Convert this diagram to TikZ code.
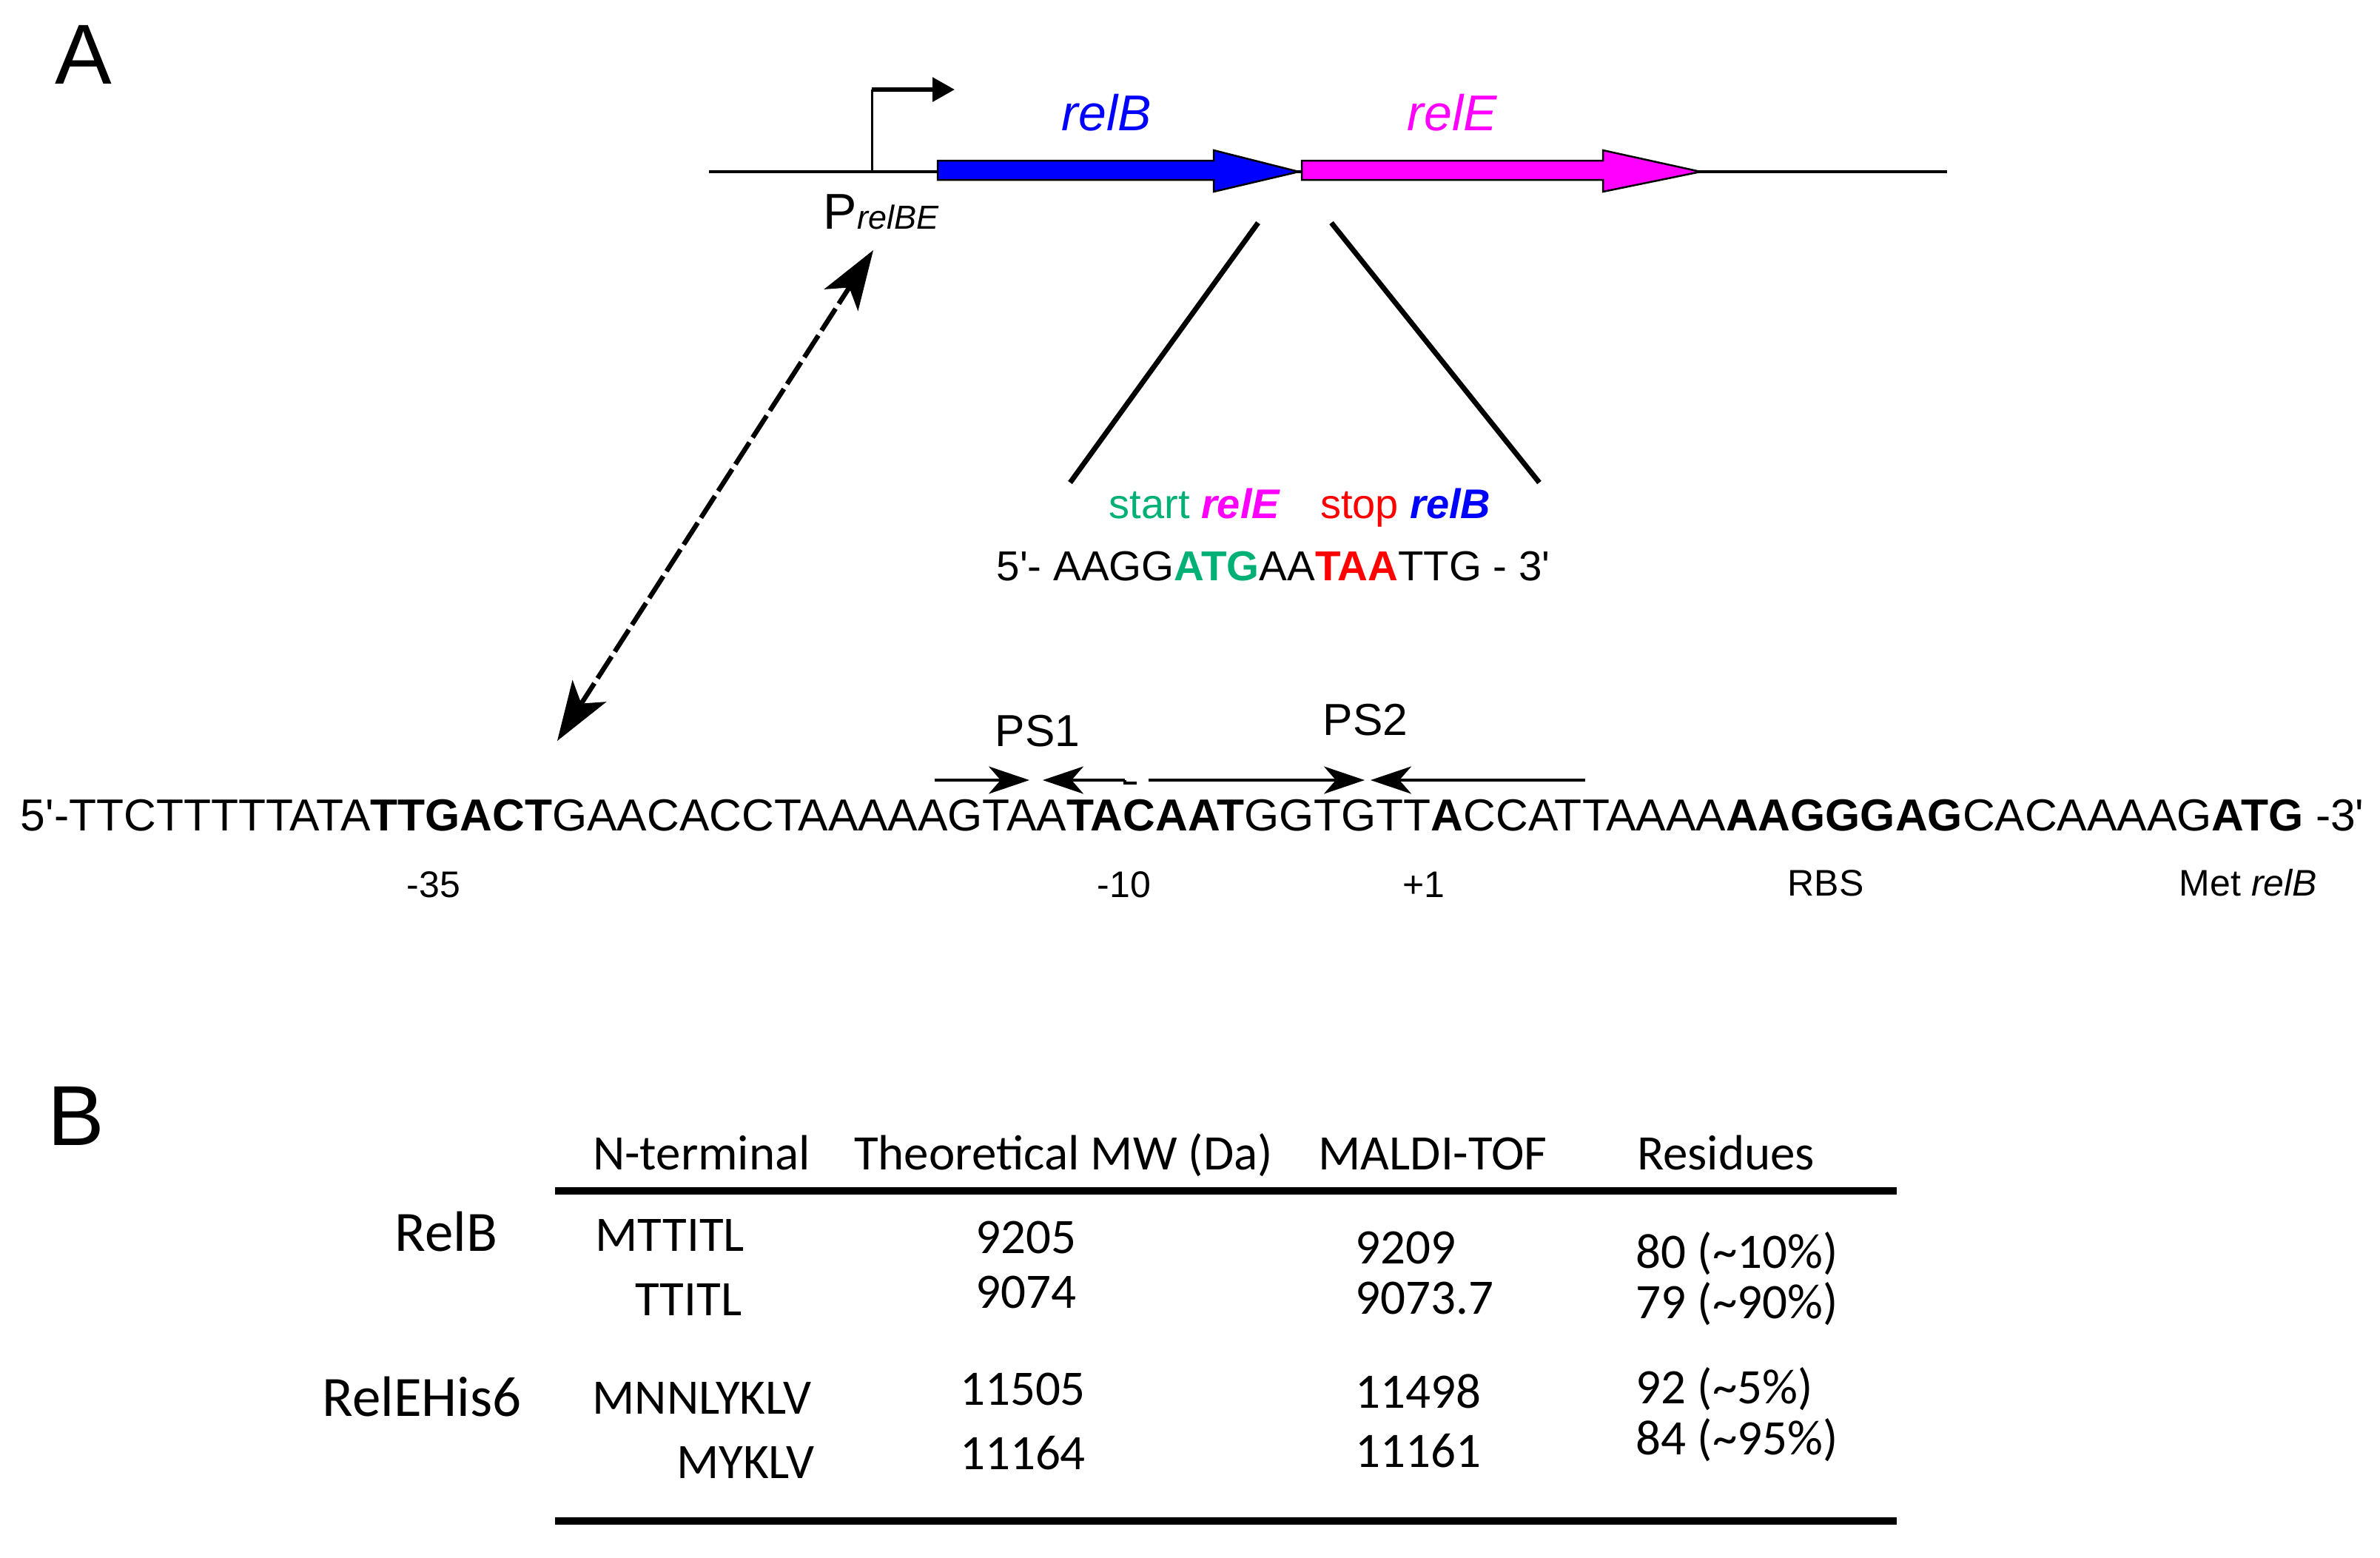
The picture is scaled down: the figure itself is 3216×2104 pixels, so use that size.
\documentclass[tikz,border=0pt]{standalone}
\usepackage{fontspec}
\setmainfont{Liberation Sans}
\newfontfamily\tabfont{Carlito}
\usetikzlibrary{arrows.meta, positioning}
\definecolor{geneblue}{RGB}{0,0,255}
\definecolor{genemag}{RGB}{255,0,255}
\definecolor{startgreen}{RGB}{0,176,116}
\definecolor{stopred}{RGB}{255,0,0}
\newcommand{\pq}{\textquotesingle}
\tikzset{%
>={Stealth[length=5.5mm,width=3.7mm,inset=1.6mm]},
  % Specifications for style of nodes:
            panel/.style = {inner sep=0pt, font=\fontsize{11.5mm}{12mm}\selectfont},
            seq/.style = {inner sep=0pt, outer sep=0pt, font=\fontsize{6.06mm}{7mm}\selectfont},
            bseq/.style = {seq, font=\fontsize{6.06mm}{7mm}\selectfont\bfseries},
            small/.style = {inner sep=0pt, font=\fontsize{5.6mm}{6mm}\selectfont},
            lbl/.style = {inner sep=0pt, font=\fontsize{5mm}{6mm}\selectfont},
            genelbl/.style = {inner sep=0pt, font=\fontsize{6.8mm}{7mm}\selectfont\itshape},
            gene/.style = {draw=black, line width=0.25mm},
            psline/.style = {line width=0.35mm},
            cell/.style = {inner sep=0pt, font=\tabfont\fontsize{6.7mm}{7mm}\selectfont},
            rowlbl/.style = {inner sep=0pt, font=\tabfont\fontsize{7.7mm}{8mm}\selectfont},
            rule/.style = {line width=1mm}
}
\begin{document}
\begin{tikzpicture}[x=0.1mm, y=-0.1mm]
\useasboundingbox (0,0) rectangle (3216,2104);

% panel A
\node[panel] (pA) at (113,74) {A};

% gene map
\coordinate (dl) at (958,232);
\coordinate (dr) at (2631,232);
\draw[line width=0.35mm] (dl) -- (dr);
\coordinate (pr0) at (1178,232);
\coordinate (prc) at (1178,121);
\coordinate (pr1) at (1290,121);
\draw[line width=0.3mm] (pr0) -- (prc);
\draw[line width=0.6mm, -{Triangle[length=3mm,width=3.2mm]}] (prc) -- (pr1);
\draw[gene, fill=geneblue] (1267,217) -- (1640,217) -- (1640,203) -- (1755,232)
      -- (1640,259) -- (1640,243) -- (1267,243) -- cycle;
\draw[gene, fill=genemag] (1759,217) -- (2166,217) -- (2166,203) -- (2298,232)
      -- (2166,259) -- (2166,243) -- (1759,243) -- cycle;
\node[genelbl, text=geneblue] (lB) at (1495,152) {relB};
\node[genelbl, text=genemag] (lE) at (1962,152) {relE};
\node[inner sep=0pt, anchor=base west, font=\fontsize{6.8mm}{7mm}\selectfont] (prom) at (1112,309)
      {P{\fontsize{4.5mm}{5mm}\selectfont\itshape relBE}};

% junction blow-up
\coordinate (j1) at (1700,301);
\coordinate (j2) at (1446,652);
\coordinate (j3) at (1799,301);
\coordinate (j4) at (2080,652);
\draw[line width=0.7mm] (j1) -- (j2);
\draw[line width=0.7mm] (j3) -- (j4);
\node[small, anchor=base west] (ss) at (1498,700)
      {{\color{startgreen}start} {\color{genemag}\bfseries\itshape relE}\hspace{5.5mm}{\color{stopred}stop} {\color{geneblue}\bfseries\itshape relB}};
\node[inner sep=0pt, anchor=base west, font=\fontsize{5.65mm}{6mm}\selectfont] (jseq) at (1346,784)
      {5\pq- AAGG{\color{startgreen}\bfseries ATG}AA{\color{stopred}\bfseries TAA}TTG - 3\pq};

% promoter link
\coordinate (dt) at (1180,338);
\coordinate (db) at (753,1001);
\draw[line width=0.65mm, dash pattern=on 3.5mm off 0.8mm,
      {Stealth[length=8mm,width=5.4mm,inset=2mm]}-{Stealth[length=8mm,width=5.4mm,inset=2mm]}] (db) -- (dt);

% promoter sequence
\node[seq, anchor=base west] (s1) at (28,1122) {5\pq-TTCTTTTTATA};
\node[bseq, base right=0pt of s1] (s2) {TTGACT};
\node[seq, base right=0pt of s2] (s3) {GAACACCTAAAAAGTAA};
\node[bseq, base right=0pt of s3] (s4) {TACAAT};
\node[seq, base right=0pt of s4] (s5) {GGTGTT};
\node[bseq, base right=0pt of s5] (s6) {A};
\node[seq, base right=0pt of s6] (s7) {CCATTAAAA};
\node[bseq, base right=0pt of s7] (s8) {AAGGGAG};
\node[seq, base right=0pt of s8] (s9) {CACAAAAG};
\node[bseq, base right=0pt of s9] (s10) {ATG};
\node[seq, base right=0pt of s10] (s11) {\ -3\pq};

\node[lbl] (m35) at (586,1195) {-35};
\node[lbl] (m10) at (1519,1195) {-10};
\node[lbl] (p1) at (1924,1195) {+1};
\node[lbl] (rbs) at (2467,1193) {RBS};
\node[lbl] (met) at (3038,1193) {Met \textit{relB}};

% palindromes
\node[seq] (ps1) at (1402,988) {PS1};
\node[seq] (ps2) at (1845,973) {PS2};
\coordinate (a1) at (1263,1054);
\coordinate (a2) at (1391,1054);
\coordinate (a3) at (1409,1054);
\coordinate (a4) at (1520,1054);
\coordinate (a5) at (1552,1054);
\coordinate (a6) at (1844,1054);
\coordinate (a7) at (1852,1054);
\coordinate (a8) at (2142,1054);
\draw[psline, ->] (a1) -- (a2);
\draw[psline, ->] (a4) -- (a3);
\draw[psline] (a4) -- ++(0,4) -- ++(16,0);
\draw[psline, ->] (a5) -- (a6);
\draw[psline, ->] (a8) -- (a7);

% panel B
\node[panel] (pB) at (103,1508) {B};
\node[cell, anchor=base] (h1) at (948,1580) {N-terminal};
\node[cell, anchor=base] (h2) at (1437,1580) {Theoretical MW (Da)};
\node[cell, anchor=base] (h3) at (1936,1580) {MALDI-TOF};
\node[cell, anchor=base] (h4) at (2332,1580) {Residues};
\coordinate (tl) at (750,1609);
\coordinate (tr) at (2563,1609);
\coordinate (bl) at (750,2055);
\coordinate (br) at (2563,2055);
\draw[rule] (tl) -- (tr);
\draw[rule] (bl) -- (br);

\node[rowlbl, anchor=base west] (rB) at (533,1690) {RelB};
\node[cell, anchor=base west] (n11) at (804,1690) {MTTITL};
\node[cell, anchor=base east] (n12) at (1003,1777) {TTITL};
\node[cell, anchor=base] (w11) at (1386,1693) {9205};
\node[cell, anchor=base] (w12) at (1386,1767) {9074};
\node[cell, anchor=base west] (m11) at (1831,1707) {9209};
\node[cell, anchor=base west] (m12) at (1831,1775) {9073.7};
\node[cell, anchor=base west] (r11) at (2210,1713) {80 (\textasciitilde10\%)};
\node[cell, anchor=base west] (r12) at (2210,1781) {79 (\textasciitilde90\%)};

\node[rowlbl, anchor=base west] (rE) at (435,1913) {RelEHis6};
\node[cell, anchor=base west] (n21) at (800,1910) {MNNLYKLV};
\node[cell, anchor=base east] (n22) at (1101,1997) {MYKLV};
\node[cell, anchor=base] (w21) at (1382,1898) {11505};
\node[cell, anchor=base] (w22) at (1382,1985) {11164};
\node[cell, anchor=base west] (m21) at (1831,1902) {11498};
\node[cell, anchor=base west] (m22) at (1831,1982) {11161};
\node[cell, anchor=base west] (r21) at (2210,1896) {92 (\textasciitilde5\%)};
\node[cell, anchor=base west] (r22) at (2210,1965) {84 (\textasciitilde95\%)};
\end{tikzpicture}
\end{document}
